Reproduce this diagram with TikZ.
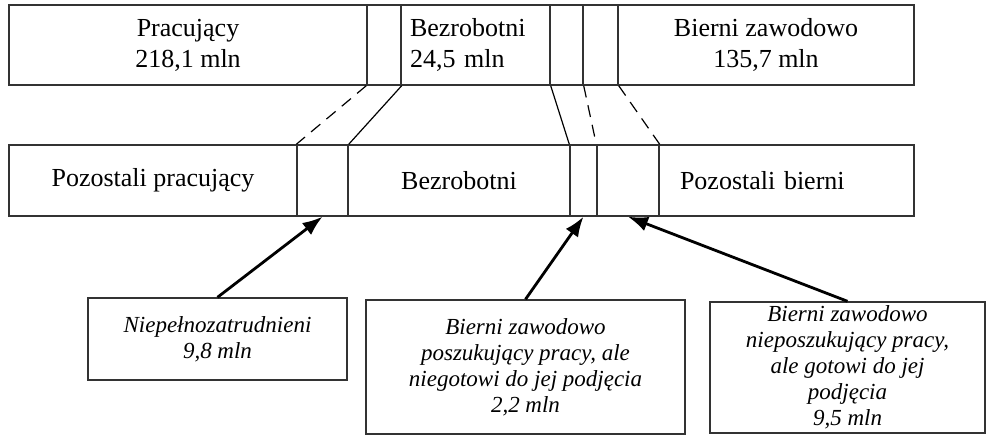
\documentclass[tikz,border=0pt]{standalone}
\usepackage{fontspec}
\setmainfont{Liberation Serif}
\usepackage{tikz}
\usetikzlibrary{arrows.meta, positioning}

\begin{document}
\begin{tikzpicture}[x=0.5pt, y=-0.5pt, >={Latex[length=10pt,width=7.5pt]},
  box/.style={draw=black!80, line width=0.7pt, inner sep=0pt, align=center,
    font=\fontsize{13}{15.5}\selectfont},
  topbox/.style={box, minimum height=40pt},
  lowbox/.style={box, minimum height=35.5pt},
  note/.style={draw=black!80, line width=0.7pt, inner sep=0pt, align=center,
    font=\fontsize{11.5}{13}\selectfont\itshape},
  link/.style={line width=0.6pt},
  gap/.style={link, dash pattern=on 6pt off 4pt},
  pointer/.style={->, line width=1.4pt}]
\useasboundingbox (0,0) rectangle (986,437);

% upper row
\node[topbox, minimum width=179pt] (prac) at (188,45) {Pracujący\\218,1 mln};
\node[topbox, minimum width=17pt] (s1) at (384,45) {};
\node[topbox, minimum width=74.5pt, inner xsep=4.5pt, text width=65.5pt, align=left] (bezr) at (475.5,45) {Bezrobotni\\24,5 mln};
\node[topbox, minimum width=16.5pt] (s2) at (566.5,45) {};
\node[topbox, minimum width=17.5pt] (s3) at (600.5,45) {};
\node[topbox, minimum width=148pt] (bier) at (766,45) {Bierni zawodowo\\135,7 mln};

% lower row
\node[lowbox, minimum width=144pt] (pozp) at (153,180.5) {Pozostali pracujący};
\node[lowbox, minimum width=25.5pt] (b1) at (322.5,180.5) {};
\node[lowbox, minimum width=111pt] (bez2) at (459,180.5) {Bezrobotni};
\node[lowbox, minimum width=13.5pt] (b2) at (583.5,180.5) {};
\node[lowbox, minimum width=31pt] (b3) at (628,180.5) {};
\node[lowbox, minimum width=127.5pt, inner xsep=10.5pt, text width=106.5pt, align=left] (pozb) at (786.5,180.5) {Pozostali bierni};

% notes
\node[note, minimum width=129.5pt, minimum height=41pt] (niep) at (217.5,339) {Niepełnozatrudnieni\\9,8 mln};
\node[note, minimum width=159.5pt, minimum height=67pt] (posz) at (525.5,367) {Bierni zawodowo\\poszukujący pracy, ale\\niegotowi do jej podjęcia\\2,2 mln};
\node[note, minimum width=137.5pt, minimum height=65.5pt] (got) at (847.5,367.5) {Bierni zawodowo\\nieposzukujący pracy,\\ale gotowi do jej\\podjęcia\\9,5 mln};

% links between rows
\draw[gap] (s1.south west) -- (b1.north west);
\draw[link] (s1.south east) -- (b1.north east);
\draw[link] (bezr.south east) -- (b2.north west);
\draw[gap] (s2.south east) -- (b3.north west);
\draw[gap] (s3.south east) -- (b3.north east);

% arrows
\draw[pointer] (niep.north) -- (b1.south);
\draw[pointer] (posz.north) -- (b2.south);
\draw[pointer] (got.north) -- (b3.south);

\end{tikzpicture}
\end{document}
